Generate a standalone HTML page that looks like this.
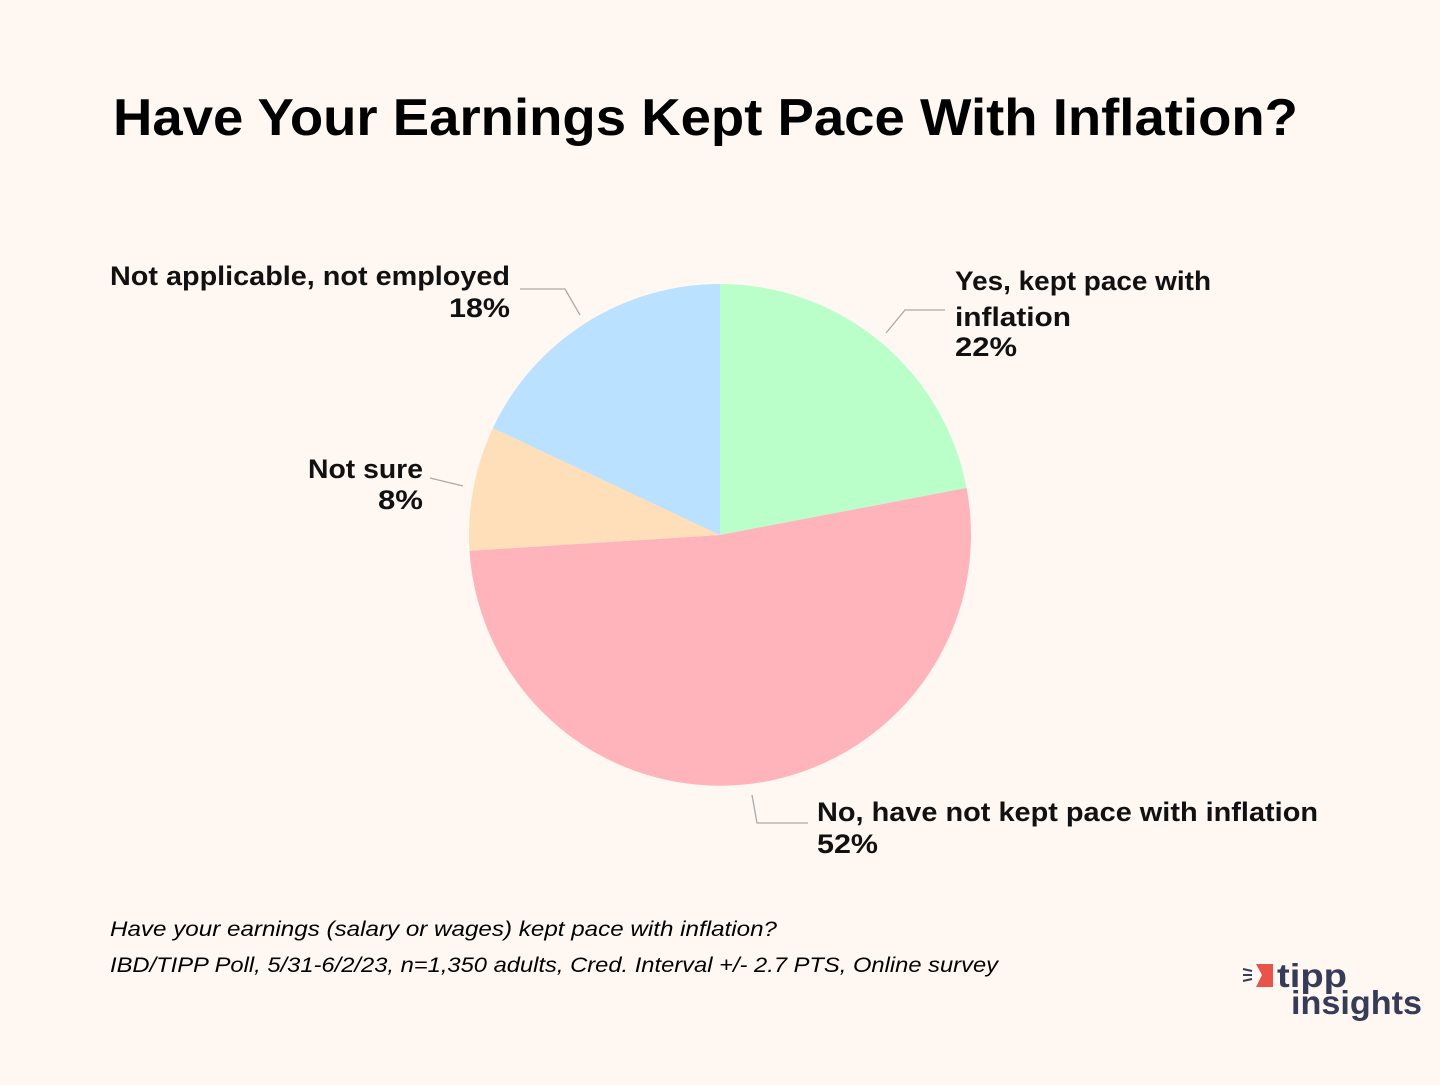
<!DOCTYPE html>
<html><head><meta charset="utf-8"><style>
body{margin:0;width:1440px;height:1080px;background:#fff7f2;overflow:hidden;font-family:"Liberation Sans",sans-serif}
</style></head><body>
<svg width="1440" height="1080" xmlns="http://www.w3.org/2000/svg" font-family="Liberation Sans, sans-serif">
<rect width="1440" height="1080" fill="#fff7f2"/>
<text x="113" y="135" font-size="52" font-weight="bold" fill="#000" textLength="1185" lengthAdjust="spacingAndGlyphs">Have Your Earnings Kept Pace With Inflation?</text>
<g>
<path d="M720,535 L720,284 A251,251 0 0 1 966.6,488 Z" fill="#baffc9"/>
<path d="M720,535 L966.6,488 A251,251 0 1 1 469.5,550.8 Z" fill="#ffb3ba"/>
<path d="M720,535 L469.5,550.8 A251,251 0 0 1 492.9,428.1 Z" fill="#ffdfba"/>
<path d="M720,535 L492.9,428.1 A251,251 0 0 1 720,284 Z" fill="#bae1ff"/>
</g>
<g stroke="#aaa" stroke-width="1.3" fill="none">
<polyline points="886,333 905,310 945,310"/>
<polyline points="580,315 565,289 520,289"/>
<polyline points="463,486 430,478"/>
<polyline points="752,795 757,823 808,823"/>
</g>
<g font-size="27" font-weight="bold" fill="#111" lengthAdjust="spacingAndGlyphs">
<text x="955" y="290" textLength="256" lengthAdjust="spacingAndGlyphs">Yes, kept pace with</text>
<text x="955" y="326" textLength="116" lengthAdjust="spacingAndGlyphs">inflation</text>
<text x="955" y="356" textLength="62" lengthAdjust="spacingAndGlyphs">22%</text>
<text x="110" y="285" textLength="400" lengthAdjust="spacingAndGlyphs">Not applicable, not employed</text>
<text x="449" y="317" textLength="61" lengthAdjust="spacingAndGlyphs">18%</text>
<text x="308" y="478" textLength="115" lengthAdjust="spacingAndGlyphs">Not sure</text>
<text x="378" y="509" textLength="45" lengthAdjust="spacingAndGlyphs">8%</text>
<text x="817" y="821" textLength="501" lengthAdjust="spacingAndGlyphs">No, have not kept pace with inflation</text>
<text x="817" y="853" textLength="61" lengthAdjust="spacingAndGlyphs">52%</text>
</g>
<g font-size="21" font-style="italic" fill="#000">
<text x="110" y="936" textLength="667" lengthAdjust="spacingAndGlyphs">Have your earnings (salary or wages) kept pace with inflation?</text>
<text x="110" y="972" textLength="888" lengthAdjust="spacingAndGlyphs">IBD/TIPP Poll, 5/31-6/2/23, n=1,350 adults, Cred. Interval +/- 2.7 PTS, Online survey</text>
</g>
<g>
<polygon points="1256,964 1273,964 1273,987 1256,987 1262,975" fill="#e8534a"/>
<g stroke="#363b58" stroke-width="2"><line x1="1243" y1="969" x2="1252" y2="971"/><line x1="1243" y1="975" x2="1252" y2="975"/><line x1="1243" y1="981" x2="1252" y2="979"/></g>
<text x="1277" y="987" font-size="33" font-weight="bold" fill="#363b58" textLength="70" lengthAdjust="spacingAndGlyphs">tipp</text>
<text x="1291" y="1014" font-size="33" font-weight="bold" fill="#363b58" textLength="131" lengthAdjust="spacingAndGlyphs">insights</text>
</g>
</svg>
</body></html>
